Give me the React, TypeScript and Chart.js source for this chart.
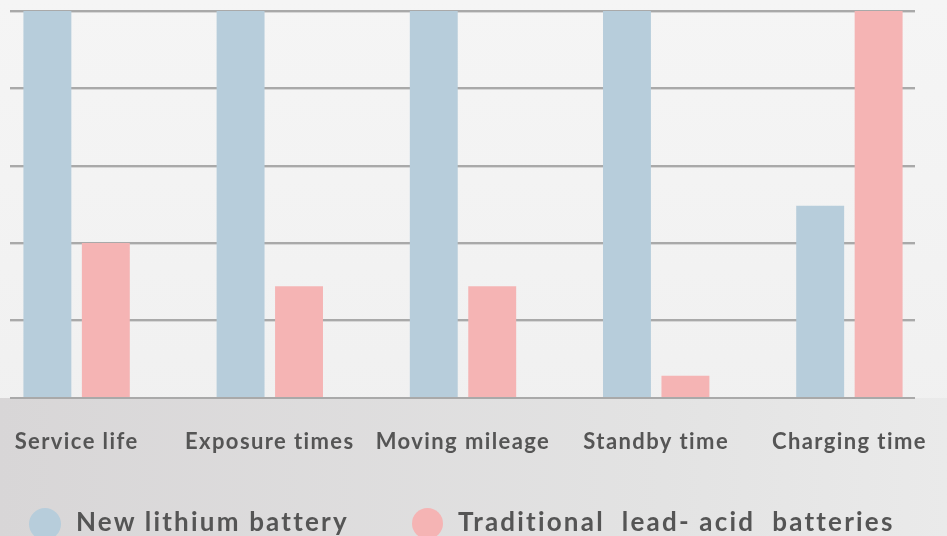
import React, { useEffect, useRef } from "react";
import { Chart, registerables } from "chart.js";

Chart.register(...registerables);

const categories = ["Service life", "Exposure times", "Moving mileage", "Standby time", "Charging time"];
const lithiumValues = [5, 5, 5, 5, 2.48];
const leadAcidValues = [2, 1.44, 1.44, 0.28, 5];
const yTicks = [0, 1, 2, 3, 4, 5];
const seriesNames = ["New lithium battery", "Traditional  lead- acid  batteries"];

const BLUE = "#b7cddb";
const PINK = "#f5b4b4";
const TEXT = "#555555";
const FONT = "Lato, 'Open Sans', sans-serif";

const gridPlugin = {
  id: "customGrid",
  beforeDraw(chart: any) {
    (chart.ctx as any).letterSpacing = "1.4px";
  },
  beforeDatasetsDraw(chart: any) {
    const ctx = chart.ctx;
    const y = chart.scales.y;
    ctx.save();
    for (const v of yTicks) {
      if (v === 0) continue;
      const py = Math.round(y.getPixelForValue(v));
      ctx.fillStyle = "#a9a9a9";
      ctx.fillRect(30, py - 1, 905, 2);
      ctx.fillStyle = "#d6d6d6";
      ctx.fillRect(30, py + 1, 905, 1);
    }
    ctx.restore();
  },
  afterDatasetsDraw(chart: any) {
    const ctx = chart.ctx;
    const y = chart.scales.y;
    const py = Math.round(y.getPixelForValue(0));
    ctx.save();
    ctx.fillStyle = "#a9a9a9";
    ctx.fillRect(30, py - 1, 905, 2);
    ctx.restore();
  },
};

export default function App() {
  const ref = useRef<HTMLCanvasElement | null>(null);
  useEffect(() => {
    if (!ref.current) return;
    const chart = new Chart(ref.current, {
      type: "bar",
      data: {
        labels: categories,
        datasets: [
          { label: seriesNames[0], data: lithiumValues, backgroundColor: BLUE, borderWidth: 0 },
          { label: seriesNames[1], data: leadAcidValues, backgroundColor: PINK, borderWidth: 0 },
        ],
      },
      options: {
        animation: false,
        responsive: true,
        maintainAspectRatio: false,
        layout: { padding: { top: 11, bottom: 58.5, left: 0, right: 0 } },
        datasets: { bar: { categoryPercentage: 0.605, barPercentage: 0.82 } },
        plugins: { legend: { display: false }, tooltip: { enabled: false } },
        scales: {
          x: {
            grid: { display: false, drawTicks: false },
            border: { display: false },
            ticks: {
              color: TEXT,
              font: { family: FONT, weight: "bold", size: 22 },
              padding: 31,
              maxRotation: 0,
              autoSkip: false,
            },
            afterFit(scale: any) {
              scale.height = 80;
              scale.paddingLeft = 0;
              scale.paddingRight = 0;
            },
          },
          y: {
            display: false,
            min: 0,
            max: 5,
            ticks: { stepSize: 1 },
          },
        },
      },
      plugins: [gridPlugin],
    } as any);
    return () => chart.destroy();
  }, []);

  const legendText: React.CSSProperties = {
    position: "absolute",
    fontFamily: FONT,
    fontWeight: 700,
    fontSize: 26,
    lineHeight: 1.2,
    letterSpacing: "2.2px",
    color: TEXT,
    whiteSpace: "pre",
  };

  return (
    <div
      style={{
        position: "fixed",
        left: 0,
        top: 0,
        width: 947,
        height: 536,
        overflow: "hidden",
        background: "linear-gradient(to bottom, #f5f5f5, #efefef)",
      }}
    >
      <div
        style={{
          position: "absolute",
          left: 0,
          top: 398,
          width: 947,
          height: 138,
          background: "linear-gradient(to right, #d8d6d7, #e3e3e3 70%, #eaeaea)",
        }}
      />
      <div style={{ position: "absolute", left: -20, top: 0, width: 966, height: 536 }}>
        <canvas ref={ref} />
      </div>
      <div style={{ position: "absolute", left: 29, top: 507.5, width: 32, height: 32, borderRadius: "50%", background: BLUE }} />
      <div style={{ ...legendText, left: 76, top: 506 }}>{seriesNames[0]}</div>
      <div style={{ position: "absolute", left: 411.5, top: 507.5, width: 31, height: 31, borderRadius: "50%", background: PINK }} />
      <div style={{ ...legendText, left: 458, top: 506 }}>{seriesNames[1]}</div>
    </div>
  );
}
